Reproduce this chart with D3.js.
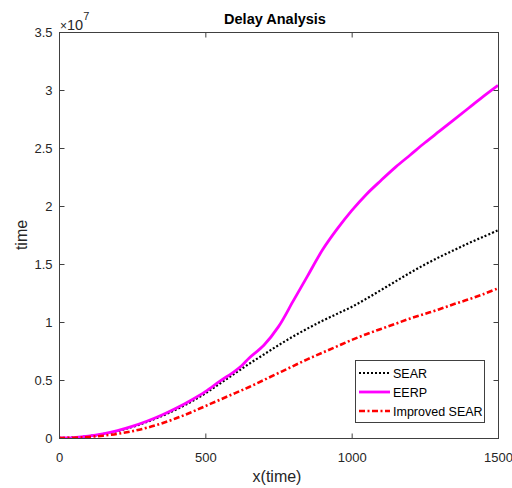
<!DOCTYPE html>
<html>
<head>
<meta charset="utf-8">
<script src="https://cdn.jsdelivr.net/npm/d3@7"></script>
<style>
html,body{margin:0;padding:0;background:#fff;}
svg{display:block;font-family:"Liberation Sans",Arial,sans-serif;}
</style>
</head>
<body>
<svg id="chart" width="512" height="488"></svg>
<script>
// x values (time)
const xValues = [0,50,100,150,200,250,300,350,400,450,500,550,600,650,700,750,800,850,900,950,1000,1050,1100,1150,1200,1250,1300,1350,1400,1450,1500];
// series values in units of 1e7
const searValues = [0,0.004,0.015,0.034,0.06,0.095,0.138,0.188,0.245,0.31,0.385,0.47,0.555,0.64,0.72,0.80,0.875,0.945,1.01,1.07,1.13,1.20,1.275,1.35,1.425,1.495,1.56,1.62,1.68,1.735,1.79];
const eerpX = [0,50,100,150,200,250,300,350,400,450,500,550,600,625,650,700,750,800,850,900,950,1000,1050,1100,1150,1200,1250,1300,1350,1400,1450,1500];
const eerpValues = [0,0.004,0.016,0.036,0.064,0.10,0.144,0.196,0.256,0.324,0.40,0.49,0.575,0.625,0.69,0.80,0.96,1.18,1.40,1.62,1.80,1.96,2.10,2.22,2.335,2.44,2.545,2.645,2.745,2.845,2.945,3.04];
const improvedValues = [0,0.002,0.009,0.02,0.036,0.058,0.088,0.125,0.17,0.22,0.275,0.33,0.385,0.44,0.50,0.56,0.62,0.68,0.735,0.79,0.845,0.895,0.94,0.985,1.03,1.07,1.11,1.155,1.195,1.24,1.29];
const xTicks = [0,500,1000,1500];
const yTicks = [0,0.5,1,1.5,2,2.5,3,3.5];
const seriesNames = ["SEAR","EERP","Improved SEAR"];
const seriesColors = ["#000000","#ff00ff","#ff0000"];
const EXP = 1e7;

const svg = d3.select("#chart");
const m = {left:59, right:498, top:32, bottom:438};
const x = d3.scaleLinear().domain([0,1500]).range([m.left, m.right]);
const y = d3.scaleLinear().domain([0,3.5*EXP]).range([m.bottom, m.top]);

const axisColor = "#404040";
const FONT = "'Liberation Sans',Arial,sans-serif";

svg.append("clipPath").attr("id","clip").append("rect")
  .attr("x",m.left).attr("y",m.top-2).attr("width",m.right-m.left+2).attr("height",m.bottom-m.top+3);

const line = d3.line().x(d=>x(d[0])).y(d=>y(d[1]*EXP)).curve(d3.curveCatmullRom.alpha(0.5));

const series = [
  {name:seriesNames[0], color:seriesColors[0], data:xValues.map((v,i)=>[v,searValues[i]]), dash:"2,2", width:2.2},
  {name:seriesNames[1], color:seriesColors[1], data:eerpX.map((v,i)=>[v,eerpValues[i]]), dash:null, width:2.8},
  {name:seriesNames[2], color:seriesColors[2], data:xValues.map((v,i)=>[v,improvedValues[i]]), dash:"6,2.5,2,2.5", width:2.6}
];

const g = svg.append("g").attr("clip-path","url(#clip)");
series.forEach(s=>{
  g.append("path").datum(s.data)
    .attr("d",line).attr("fill","none")
    .attr("stroke",s.color).attr("stroke-width",s.width)
    .attr("stroke-dasharray",s.dash);
});

// axes
const axG = svg.append("g");
axG.append("g").attr("transform",`translate(0,${m.bottom+0.5})`)
  .call(d3.axisBottom(x).tickValues(xTicks).tickSize(-5).tickPadding(14).tickFormat(d3.format("d")))
  .call(a=>{a.select(".domain").remove();});
axG.append("g").attr("transform",`translate(0,${m.top+0.5})`)
  .call(d3.axisTop(x).tickValues(xTicks).tickSize(-5).tickFormat(""))
  .call(a=>{a.select(".domain").remove();});
axG.append("g").attr("transform",`translate(${m.left+0.5},0)`)
  .call(d3.axisLeft(y).tickValues(yTicks.map(v=>v*EXP)).tickSize(-5).tickPadding(7).tickFormat(d=>d3.format("")(+(d/EXP).toFixed(1))))
  .call(a=>{a.select(".domain").remove();});
axG.append("g").attr("transform",`translate(${m.right+0.5},0)`)
  .call(d3.axisRight(y).tickValues(yTicks.map(v=>v*EXP)).tickSize(-5).tickFormat(""))
  .call(a=>{a.select(".domain").remove();});
axG.selectAll(".tick line").attr("stroke",axisColor);
axG.selectAll(".tick text").attr("fill","#262626").attr("font-size","13px").attr("font-family",FONT);
axG.append("rect").attr("x",m.left+0.5).attr("y",m.top+0.5)
  .attr("width",m.right-m.left).attr("height",m.bottom-m.top)
  .attr("fill","none").attr("stroke",axisColor).attr("stroke-width",1);

// exponent label
const ex = svg.append("text").attr("x",60).attr("y",29.5).attr("fill","#262626").attr("font-family",FONT);
ex.append("tspan").attr("font-size","12px").text("×");
ex.append("tspan").attr("font-size","14.5px").text("10");
ex.append("tspan").attr("dy",-10).attr("font-size","11px").text("7");

// title
svg.append("text").attr("x",275).attr("y",23.5).attr("text-anchor","middle").attr("font-family",FONT)
  .attr("font-size","14.5px").attr("font-weight","bold").attr("fill","#000").text("Delay Analysis");

// axis labels
svg.append("text").attr("x",277).attr("y",482).attr("text-anchor","middle").attr("font-family",FONT)
  .attr("font-size","16px").attr("fill","#262626").text("x(time)");
svg.append("text").attr("transform","translate(27,235) rotate(-90)").attr("text-anchor","middle").attr("font-family",FONT)
  .attr("font-size","16px").attr("fill","#262626").text("time");

// legend
const lg = svg.append("g");
lg.append("rect").attr("x",355.5).attr("y",360.5).attr("width",129).attr("height",62)
  .attr("fill","#fff").attr("stroke","#404040").attr("stroke-width",1);
series.forEach((s,i)=>{
  const yy = 373 + i*19;
  lg.append("line").attr("x1",359).attr("x2",390).attr("y1",yy).attr("y2",yy)
    .attr("stroke",s.color).attr("stroke-width",s.width).attr("stroke-dasharray",s.dash);
  lg.append("text").attr("x",393).attr("y",yy+4.5).attr("font-family",FONT).attr("font-size","12.5px").attr("fill","#000").text(s.name);
});
</script>
</body>
</html>
